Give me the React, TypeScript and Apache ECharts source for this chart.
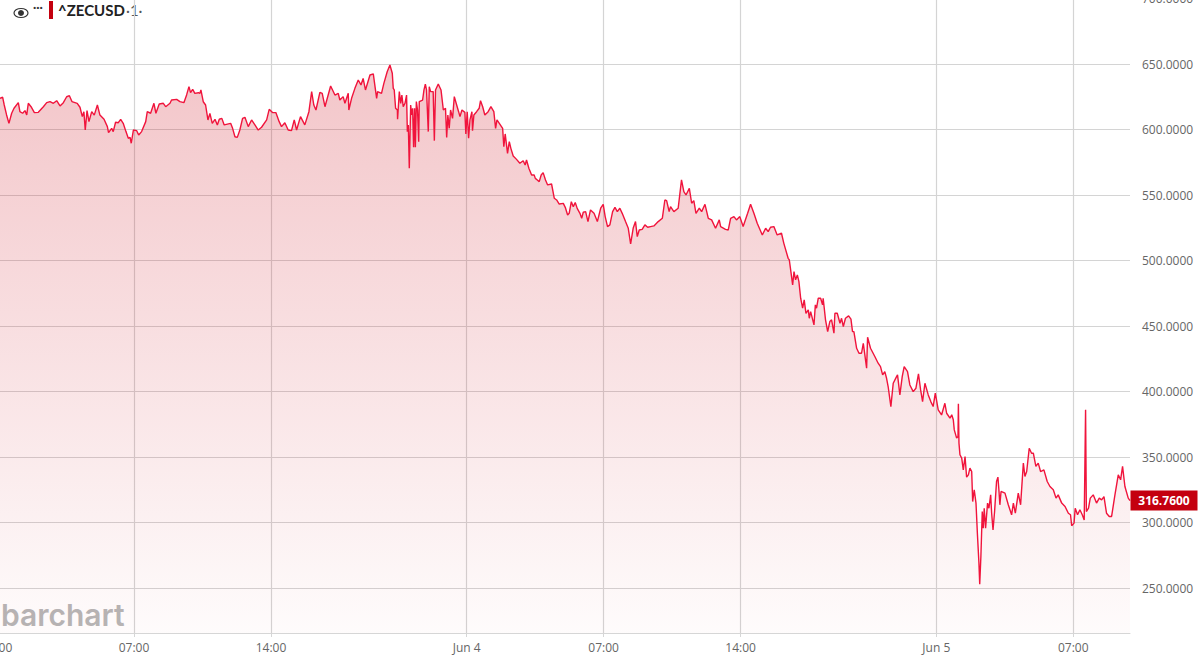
import React, { useEffect, useRef } from "react";
import * as echarts from "echarts";

// Hours since Jun 3 00:00 and ZEC/USD prices in six stretches.
const hoursA = [0.15,0.29,0.37,0.49,0.61,0.75,0.87,1.09,1.17,1.31,1.43,1.52,1.6,1.74,1.91,2.11,2.37,2.54,2.71,2.88,3.05,3.22,3.39,3.56,3.7,3.83,4.1,4.24,4.36,4.44,4.51,4.6,4.7,4.84,4.97,5.13,5.26,5.47,5.64,5.7,5.86,5.94,6.06,6.2,6.32,6.45,6.59,6.71,6.8,6.86,6.97,7.14,7.24,7.39,7.6,7.68,7.85,8.02,8.12,8.29,8.5,8.62,8.84,8.92,9.18,9.35,9.55,9.69,9.81,9.89,10.0,10.11,10.29,10.37];
const pricesA = [623.8,624.6,618.7,611.1,604.7,612.4,616.2,620.5,613.6,612.4,614.4,611.1,620,617.4,612.9,613.1,617.4,620.5,621.3,620,622,618,620.5,625,625.8,621.3,620,617,609.8,613.6,599.6,614.4,606,613.6,611,618.7,611,607.8,602.2,597.6,600.9,598.4,605.5,605.2,607.8,604.7,598.4,593.3,594,589.5,599.6,599.1,595.8,598.4,606,613.6,612.4,620,612.4,619.5,620,617.4,620,622.5,623,621.3,620.5,626.4,632.7,628.1,630.7,627.6,628.1,627.6];

const hoursB = [10.42,10.54,10.66,10.78,10.88,11.0,11.14,11.26,11.36,11.49,11.61,11.94,12.04,12.16,12.28,12.41,12.55,12.67,12.84,13.01,13.18,13.35,13.52,13.78,13.91,14.08,14.25,14.42,14.54,14.71,14.88,15.05,15.19,15.31,15.51,15.73,15.94,16.08,16.19,16.3,16.5,16.62,16.76,17.05,17.27,17.44,17.52,17.69,17.78,17.95,17.98,18.12,18.29,18.46,18.6,18.71,18.83,19.06,19.23,19.4,19.45,19.65,19.77,19.94,20.08,20.2];
const pricesB = [630.2,621.2,618.7,607.3,612.3,604.7,607.8,603.5,607.8,608.5,603.5,604.7,600.9,594.5,594,599.6,608.5,609.3,602.2,607.3,603.5,599.6,601.7,607.3,615.4,612.9,612.9,606,602.2,605.2,599.6,599.1,607.3,599.6,609.8,603.5,613.6,628.9,618.7,614.9,628.4,627.6,617.4,633.2,626.3,627.6,622.5,625.1,620,627.6,614.9,623.8,631.4,637.8,634,639,630.2,641.6,642.4,623.8,628.9,627.6,635.2,644.1,649.2,642.9];

const hoursC = [20.25,20.3,20.37,20.46,20.47,20.56,20.63,20.69,20.76,20.85,20.93,20.97,21.02,21.07,21.14,21.19,21.24,21.29,21.34,21.38,21.43,21.49,21.55,21.58,21.75,21.82,21.89,21.95,22.04,22.09,22.16,22.29,22.35,22.41,22.55,22.69,22.81,22.92,22.98,23.04,23.11,23.18,23.28,23.37,23.49,23.59,23.66,23.76,23.91,23.96,24.03,24.1,24.17,24.27,24.3,24.37,24.51,24.64,24.71,24.82,24.93,25.1,25.24,25.39,25.48,25.55,25.67,25.84,25.9,25.97,26.09,26.18,26.26,26.38,26.55,26.72,26.89,26.99,27.06,27.18,27.32,27.45,27.51,27.61,27.71,27.81,27.91,28.03,28.14,28.34,28.48,28.6,28.73,28.94,29.04,29.16,29.24,29.35,29.45,29.55,29.65,29.79];
const pricesC = [631.4,630.2,616.2,614.9,607.8,628.9,620,626.3,617.4,620,626.3,598.3,603.4,570.4,618.7,611.1,616.2,586.4,616.2,586.4,621.3,614.9,590.7,621.3,622.5,630.2,634.7,630.2,598.4,632.7,628.9,628.9,591.5,630.2,634.7,630.2,614.9,616.2,594,611.1,600.9,614.9,608.5,625.1,618.7,613.6,609.8,614.9,613.1,596.6,613.6,593.3,607.3,613.6,599.1,611.1,613.6,616.2,622,617.4,611.1,613.6,617.4,613.6,600.9,607.3,604.7,600.9,586.9,596.6,581.8,590.7,585.6,579.8,577.2,574.2,576.2,572.9,576.7,570.4,565.3,565.3,562.7,561.5,560.2,565.3,567.1,561.5,557.7,558.4,547.5,546.2,543.1,543.6,540.6,534.7,536,544.9,541.1,544.2,539.8,536];

const hoursD = [29.88,29.96,30.08,30.2,30.33,30.51,30.68,30.85,30.98,31.08,31.2,31.32,31.46,31.58,31.7,31.83,31.95,32.12,32.26,32.38,32.51,32.63,32.72,32.82,32.97,33.11,33.25,33.4,33.57,33.79,34.0,34.13,34.22,34.35,34.42,34.59,34.81,34.98,35.1,35.21,35.38,35.5,35.61,35.72,35.89,36.01,36.18,36.35,36.52,36.72,36.91,36.98,37.23,37.37,37.49,37.66,37.79,37.96,38.13,38.36,38.51,38.68,38.85,39.11,39.28,39.41,39.53,39.7,39.87,40.09,40.21,40.43];
const pricesD = [532.2,536.8,537.3,529.7,538.6,536,529.7,539.9,542.9,533.5,525.9,527.2,537.3,540.6,537.3,539.9,536,529.7,524.6,512.6,524.6,529.7,518.2,523.3,523.8,527.2,525.4,525.9,526.4,529.7,532.2,546.2,545.7,537.3,541.1,537.3,539.9,561.5,552.6,550,555.1,543.7,545.7,536,539.9,537.3,542.9,532.2,531,524.6,531,525.9,523.8,523.3,532.2,533.5,531,533.5,525.9,536,542.9,536,528.4,519.5,524.6,522,525.4,525.9,519.5,520.8,513.1,501.7];

const hoursE = [40.49,40.57,40.66,40.73,40.81,40.9,40.98,41.07,41.17,41.25,41.34,41.46,41.51,41.58,41.75,41.82,41.88,41.97,42.09,42.19,42.22,42.34,42.45,42.56,42.65,42.77,42.82,42.94,43.08,43.16,43.25,43.36,43.52,43.64,43.72,43.79,43.93,44.05,44.18,44.27,44.35,44.44,44.49,44.64,44.86,45.03,45.15,45.26,45.37,45.46,45.54,45.68,45.8,45.97,46.02,46.14,46.26,46.36,46.53,46.65,46.82,46.96,47.09,47.2,47.3,47.42,47.59,47.72,47.84,47.95,48.1,48.27,48.44,48.53,48.7];
const pricesE = [500.4,491.5,481.4,491.5,485.2,489,483.9,471.2,463.6,469.9,459.7,462.3,455.9,461,450.8,466.1,463.6,471.2,471.2,466.1,471.2,454.7,445.7,453.4,454.7,444.5,459.7,459.7,452.1,455.9,449.6,455.9,457.7,455.2,445.7,445.7,433,429.2,429.2,436.8,427.9,417.8,441.4,433,426.7,421.6,419,412.7,415.2,410.1,403.8,388.5,406.3,411.4,412.7,397.4,411.4,419,415.2,405,399.9,402.5,413.4,401.2,392.3,406.3,397.4,392.3,388.5,398.7,386,382.1,391,383.4,379.6];

const hoursF = [48.79,48.87,48.92,49.04,49.11,49.13,49.16,49.21,49.3,49.38,49.47,49.55,49.64,49.72,49.81,49.86,49.94,50.03,50.1,50.18,50.22,50.28,50.35,50.4,50.45,50.52,50.62,50.69,50.78,50.83,50.9,50.98,51.08,51.15,51.2,51.25,51.31,51.51,51.68,51.85,51.94,52.04,52.19,52.31,52.45,52.53,52.62,52.75,52.87,52.96,53.09,53.21,53.33,53.5,53.67,53.81,53.98,54.12,54.23,54.41,54.58,54.75,54.86,54.92,55.04,55.1,55.22,55.34,55.46,55.56,55.63,55.67,55.78,55.87,56.02,56.19,56.33,56.45,56.57,56.7,56.84,56.96,57.13,57.3,57.42,57.52,57.64,57.81,57.9];
const pricesF = [382.2,378.4,370.7,364.4,365.6,390.6,360.6,351.7,349.1,340.2,350.4,334.6,336.4,341.5,338.9,316,325,314.8,291.9,269,252.9,274.1,308.4,295.7,310.9,295.7,314.8,310.9,321.1,307.1,294.4,308.4,331.3,334.6,325,313.5,323.7,322.4,313.5,305.9,314.8,307.1,322.4,313.5,345.3,335.1,338.9,356.7,352.9,352.9,342.8,345.3,338.9,340.2,331.3,327.5,325,318.6,321.1,314.8,312.2,307.1,305.9,297.5,299.5,310.9,305.9,309.7,305.9,302,386,308.4,310.9,318.6,321.1,314.8,318.6,317.3,319.8,307.1,304.6,304.6,321.1,336.4,332.6,342.8,327.5,318.6,316.76];

const xTickHours = [0, 7, 14, 24, 31, 38, 48, 55];
const xTickLabels = ["00:00", "07:00", "14:00", "Jun 4", "07:00", "14:00", "Jun 5", "07:00"];
const yTicks = [250, 300, 350, 400, 450, 500, 550, 600, 650, 700];
const lastPrice = 316.76;
const symbolName = "^ZECUSD";
const FONT = '"Open Sans", sans-serif';

export default function App() {
  const ref = useRef<HTMLDivElement>(null);

  useEffect(() => {
    const chart = echarts.init(ref.current!, undefined, { renderer: "svg" });
    const hours = [...hoursA, ...hoursB, ...hoursC, ...hoursD, ...hoursE, ...hoursF];
    const prices = [...pricesA, ...pricesB, ...pricesC, ...pricesD, ...pricesE, ...pricesF];
    const points = hours.map((h, i) => [h, prices[i]]);
    const gridColor = "#d6d6d6";

    chart.setOption({
      animation: false,
      backgroundColor: "#ffffff",
      grid: { left: -3, top: -1.5, width: 1133, height: 634.5, containLabel: false, outerBoundsMode: "none" },
      xAxis: {
        type: "value",
        min: 0,
        max: 57.9,
        axisLine: { show: true, lineStyle: { color: gridColor, width: 1 } },
        axisTick: { show: true, length: 4, customValues: xTickHours, lineStyle: { color: gridColor } },
        axisLabel: {
          show: true,
          customValues: xTickHours,
          margin: 8,
          color: "#666666",
          fontFamily: FONT,
          fontSize: 12,
          showMinLabel: true,
          formatter: (v: number) => xTickLabels[xTickHours.indexOf(v)] ?? "",
        },
        splitLine: { show: true, lineStyle: { color: "#d4d4d4", width: 1.2 } },
      },
      yAxis: {
        type: "value",
        position: "right",
        min: 215.65,
        max: 700,
        axisLine: { show: true, lineStyle: { color: gridColor, width: 1 } },
        axisTick: { show: false, customValues: yTicks },
        axisLabel: {
          show: true,
          customValues: yTicks,
          margin: 12,
          color: "#666666",
          fontFamily: FONT,
          fontSize: 12,
          formatter: (v: number) => v.toFixed(4),
        },
        splitLine: { show: true, lineStyle: { color: "#d4d4d4", width: 1.2 } },
      },
      series: [
        {
          type: "line",
          data: points,
          showSymbol: false,
          symbol: "none",
          silent: true,
          lineStyle: { color: "#f0143c", width: 1.4 },
          areaStyle: {
            opacity: 1,
            color: new echarts.graphic.LinearGradient(0, 0, 0, 1, [
              { offset: 0, color: "rgba(205,15,30,0.24)" },
              { offset: 1, color: "rgba(205,15,30,0.015)" },
            ]),
          },
          markPoint: {
            silent: true,
            animation: false,
            data: [
              {
                coord: [57.9, lastPrice],
                symbol: "rect",
                symbolSize: [67, 20],
                symbolOffset: [34, 0],
                itemStyle: { color: "#c4000f" },
                label: {
                  show: true,
                  position: "inside",
                  formatter: lastPrice.toFixed(4),
                  color: "#ffffff",
                  fontFamily: FONT,
                  fontWeight: "bold",
                  fontSize: 12,
                },
              },
            ],
          },
        },
      ],
      graphic: [
        { type: "ellipse", shape: { cx: 21, cy: 13, rx: 7, ry: 4.5 }, style: { fill: "#ffffff", stroke: "#333333", lineWidth: 1.2 } },
        { type: "circle", shape: { cx: 21, cy: 13, r: 3 }, style: { fill: "#333333" } },
        { type: "text", x: 33, y: 0, style: { text: "···", fill: "#333333", font: "bold 12px Lato, sans-serif" } },
        { type: "rect", shape: { x: 49, y: 1, width: 4, height: 18 }, style: { fill: "#c4000f" } },
        { type: "text", x: 58, y: 2, style: { text: symbolName, fill: "#222222", font: "bold 15px Lato, sans-serif" } },
        { type: "text", x: 126, y: 2, style: { text: "·1·", fill: "#555555", font: "15px Lato, sans-serif" } },
        { type: "text", x: 1, y: 600, style: { text: "barchart", fill: "#b6b6b6", font: "600 30px Inter, sans-serif" } },
      ],
    });

    return () => chart.dispose();
  }, []);

  return <div ref={ref} style={{ position: "fixed", left: 0, top: 0, width: 1200, height: 655 }} />;
}
